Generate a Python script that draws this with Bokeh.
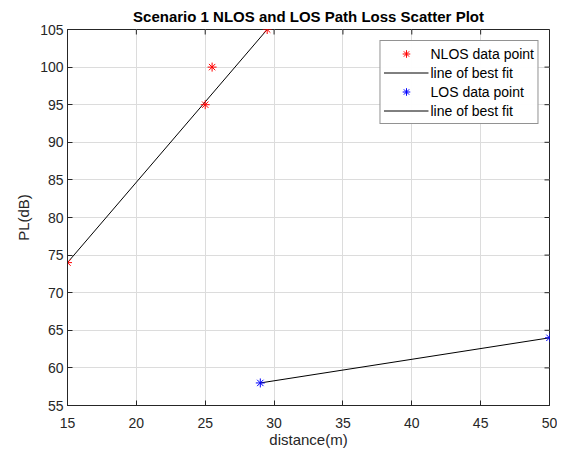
import math
from bokeh.plotting import figure
from bokeh.models import Range1d, Legend, LegendItem, FixedTicker
from bokeh.embed import file_html
from bokeh.resources import INLINE

# data
nlos_x = [15, 25, 25.5, 29.5]
nlos_y = [74, 95, 100, 105]
nlos_fit_x = [15, 29.5]
nlos_fit_y = [74, 105]
los_x = [29, 50]
los_y = [58, 64]
los_fit_x = [29, 50]
los_fit_y = [58, 64]
x_ticks = [15, 20, 25, 30, 35, 40, 45, 50]
y_ticks = [55, 60, 65, 70, 75, 80, 85, 90, 95, 100, 105]
x_min, x_max = 15, 50
y_min, y_max = 55, 105

FONT = "Liberation Sans"
DARK = "#262626"

p = figure(width=557, height=453, output_backend="svg", toolbar_location=None,
           x_range=Range1d(x_min, x_max), y_range=Range1d(y_min, y_max),
           min_border_left=67, min_border_right=8, min_border_top=29, min_border_bottom=48)

p.title.text = "Scenario 1 NLOS and LOS Path Loss Scatter Plot"
p.title.align = "center"
p.title.text_font = FONT
p.title.text_font_size = "15px"
p.title.text_font_style = "bold"
p.title.text_color = "black"
p.title.standoff = 10

for ax in (p.xaxis[0], p.yaxis[0]):
    ax.axis_line_color = DARK
    ax.major_tick_line_color = DARK
    ax.major_tick_in = 5
    ax.major_tick_out = 0
    ax.minor_tick_line_color = None
    ax.major_label_text_font = FONT
    ax.major_label_text_font_size = "14px"
    ax.major_label_text_color = DARK
    ax.axis_label_text_font = FONT
    ax.axis_label_text_font_size = "15px"
    ax.axis_label_text_font_style = "normal"
    ax.axis_label_text_color = DARK

p.xaxis.ticker = FixedTicker(ticks=x_ticks)
p.yaxis.ticker = FixedTicker(ticks=y_ticks)
p.xaxis.axis_label = "distance(m)"
p.yaxis.axis_label = "PL(dB)"
p.xaxis.axis_label_standoff = 0
p.yaxis.axis_label_standoff = 5
p.xaxis.major_label_standoff = 12
p.yaxis.major_label_standoff = 4

p.xgrid.ticker = FixedTicker(ticks=x_ticks)
p.ygrid.ticker = FixedTicker(ticks=y_ticks)
p.grid.grid_line_color = "#dcdcdc"
p.grid.grid_line_width = 1
p.outline_line_color = DARK
p.outline_line_width = 1

# inward ticks on the top and right edges of the box
p.ray(x=x_ticks, y=[y_max] * len(x_ticks), length=5, length_units="screen",
      angle=-math.pi / 2, line_color=DARK, line_width=1)
p.ray(x=[x_max] * len(y_ticks), y=y_ticks, length=5, length_units="screen",
      angle=math.pi, line_color=DARK, line_width=1)

r2 = p.line(nlos_fit_x, nlos_fit_y, line_color="black", line_width=1)
r4 = p.line(los_fit_x, los_fit_y, line_color="black", line_width=1)
r1 = p.scatter(nlos_x, nlos_y, marker="asterisk", size=9, line_color="red", line_width=1)
r3 = p.scatter(los_x, los_y, marker="asterisk", size=9, line_color="blue", line_width=1)

legend = Legend(items=[
    LegendItem(label="NLOS data point", renderers=[r1]),
    LegendItem(label="line of best fit", renderers=[r2]),
    LegendItem(label="LOS data point", renderers=[r3]),
    LegendItem(label="line of best fit", renderers=[r4]),
], location="top_right")
legend.label_text_font = FONT
legend.label_text_font_size = "14px"
legend.label_text_color = "black"
legend.border_line_color = DARK
legend.border_line_width = 1
legend.glyph_width = 45
legend.glyph_height = 19
legend.label_height = 19
legend.spacing = 0
legend.padding = 3
legend.margin = 11
legend.label_standoff = 2
p.add_layout(legend, "center")

open("out.html", "w").write(file_html(p, INLINE))
